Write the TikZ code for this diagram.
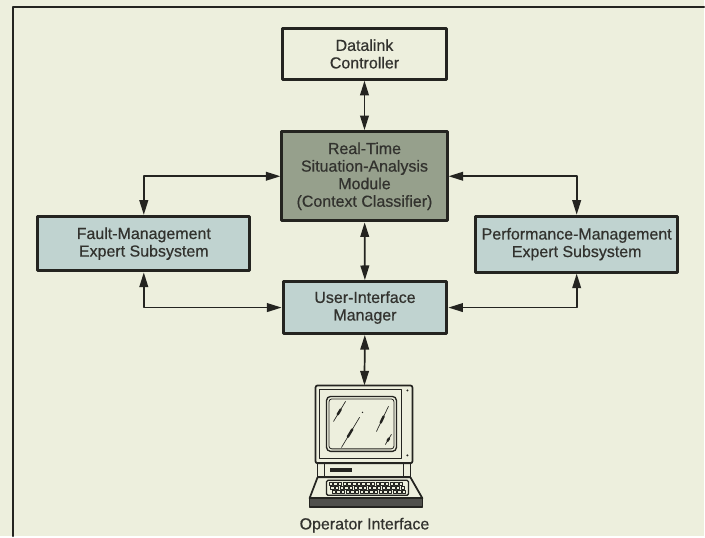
\documentclass[tikz,border=0pt]{standalone}
\usepackage{fontspec}
\setmainfont{Liberation Sans}[FakeBold=0.6]
\usetikzlibrary{arrows.meta,calc}

\definecolor{paper}{RGB}{237,239,221}
\definecolor{ink}{RGB}{36,36,32}
\definecolor{textgray}{RGB}{50,50,46}
\definecolor{coregray}{RGB}{150,160,140}
\definecolor{subblue}{RGB}{192,211,208}

\tikzset{
  block/.style={draw=ink,line width=2.2pt,align=center,text=textgray,
    font=\fontsize{12}{13.2}\selectfont,inner sep=2pt},
  link/.style={draw=ink,line width=1.3pt,
    {Triangle[length=11pt,width=6.5pt]}-{Triangle[length=11pt,width=6.5pt]}},
  pcline/.style={draw=ink,line width=1pt},
}

\begin{document}
\begin{tikzpicture}[x=0.75pt,y=-0.75pt,line cap=round,line join=round]
\fill[paper] (0,0) rectangle (705,537);
\draw[ink,line width=1.5pt] (13,537) -- (13,7) -- (705,7);

% the five blocks
\node[block,fill=paper,minimum width=123pt,minimum height=38pt] (datalink) at (365,54) {Datalink\\Controller};
\node[block,fill=coregray,minimum width=124pt,minimum height=67pt] (realtime) at (365,176.5)
  {Real-Time\\Situation-Analysis\\Module\\(Context Classifier)};
\node[block,fill=subblue,minimum width=159pt,minimum height=41pt] (fault) at (144,244)
  {Fault-Management\\Expert Subsystem};
\node[block,fill=subblue,minimum width=152pt,minimum height=42pt] (perf) at (577.5,244.5)
  {Performance-Management\\Expert Subsystem};
\node[block,fill=subblue,minimum width=123pt,minimum height=39pt] (ui) at (365.5,308)
  {User-Interface\\Manager};

% operator terminal
\coordinate (pc) at (365,386);
\draw[pcline,line width=1.3pt,rounded corners=1.5pt] (316,386) rectangle (413,464);
\draw[pcline] (320,390) rectangle (402,459);
\draw[pcline,rounded corners=3pt] (327,397) rectangle (397,452);
\draw[pcline,line width=0.6pt,rounded corners=2pt] (329.5,399.5) rectangle (394.5,449.5);
\fill[ink] (408,391) circle (1.1) (408,456) circle (1.1);
% glare on the screen
\foreach \a/\b/\c/\d in {334/422/346/402,342/448/360/418,377/432/389/407,386/445/392/435} {
  \draw[ink,line width=0.5pt] (\a,\b) -- (\c,\d);
  \draw[ink,line width=1.8pt] ($(\a,\b)!0.35!(\c,\d)$) -- ($(\a,\b)!0.6!(\c,\d)$);
}
\fill[ink] (363,413) circle (0.8);
% base with drive slot
\draw[pcline,line width=1.3pt] (318,464) rectangle (411,478);
\draw[pcline] (325,464) -- (325,478) (404,464) -- (404,478);
\fill[ink] (330,469) rectangle (352,473);
% keyboard
\draw[pcline,line width=1.3pt] (318,478) -- (411,478) -- (423,499) -- (310,499) -- cycle;
\draw[pcline,rounded corners=1pt] (327,481) rectangle (409,496);
\foreach \r in {0,1,2} {
  \foreach \c in {0,...,15} {
    \draw[ink,line width=0.6pt] (329.5+\r*1.5+\c*4.7,483+\r*4) rectangle ++(3.4,2.6);
  }
}
\fill[ink!80] (310,499) rectangle (423,508);
\draw[pcline,line width=1.3pt] (310,499) rectangle (423,508);

\node[text=textgray,font=\fontsize{12}{13.2}\selectfont] (oplabel) at (365,526) {Operator Interface};

% connectors
\draw[link] (datalink) -- (realtime);
\draw[link] (realtime) -- (ui);
\draw[link] (ui) -- (pc);
\draw[link] (realtime.west) -| (fault.north);
\draw[link] (realtime.east) -| (perf.north);
\draw[link] (fault.south) |- (ui.west);
\draw[link] (perf.south) |- (ui.east);
\end{tikzpicture}
\end{document}
